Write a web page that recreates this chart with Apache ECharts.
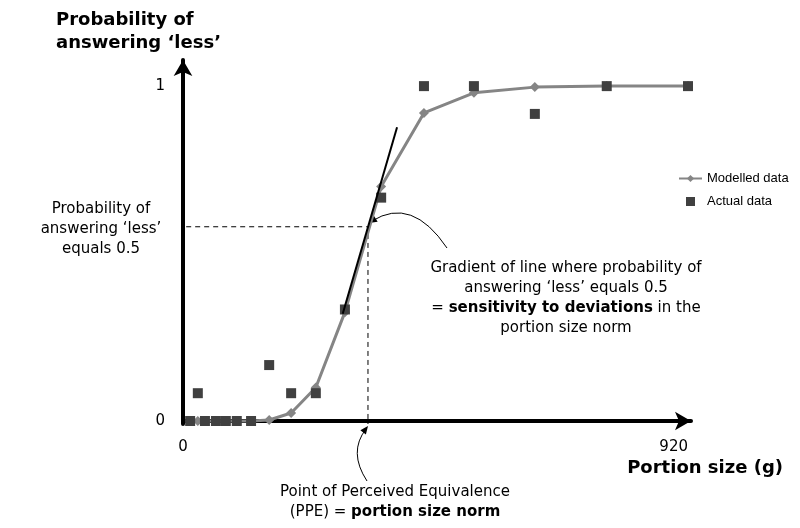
<!DOCTYPE html>
<html>
<head>
<meta charset="utf-8">
<script src="https://cdn.jsdelivr.net/npm/echarts@6/dist/echarts.min.js"></script>
<style>
  html, body { margin: 0; padding: 0; background: #fff; }
  #chart { width: 800px; height: 528px; }
</style>
</head>
<body>
<div id="chart"></div>
<script>
// portion sizes (g) and probabilities
const portionSizes = [13, 27, 40, 60, 78, 98, 124, 157, 197, 242, 295, 361, 439, 530, 641, 772, 920];
const actualData = [0, 0.083, 0, 0, 0, 0, 0, 0.167, 0.083, 0.083, 0.333, 0.667, 1, 1, 0.917, 1, 1];
const modelledData = [0, 0, 0, 0, 0, 0, 0, 0.003, 0.024, 0.10, 0.325, 0.70, 0.92, 0.98, 0.997, 1, 1];
// tangent at the PPE, and the dashed guide lines
const tangentLine = [[291, 0.32], [390, 0.877]];
const guideLine = [[-27, 0.58], [337, 0.58], [337, -0.009]];
const xTicks = [0, 920];
const yTicks = [0, 1];

const chart = echarts.init(document.getElementById('chart'));
const font = 'DejaVu Sans';

// little arrow head at the end of a curve
function arrowHead(x, y, fromX, fromY) {
    const a = Math.atan2(y - fromY, x - fromX);
    const len = 8, half = 3.5;
    const bx = x - len * Math.cos(a), by = y - len * Math.sin(a);
    return {
        type: 'polygon',
        shape: { points: [[x, y], [bx + half * Math.sin(a), by - half * Math.cos(a)], [bx - half * Math.sin(a), by + half * Math.cos(a)]] },
        style: { fill: '#000' }
    };
}

const option = {
    animation: false,
    textStyle: { fontFamily: font },
    grid: { left: 183, right: 109, top: 60, bottom: 104 },
    legend: {
        data: [
            { name: 'Modelled data' },
            { name: 'Actual data', icon: 'path://M0,0h10v10h-10z' }
        ],
        orient: 'vertical',
        left: 673,
        top: 167,
        itemGap: 10,
        itemWidth: 23,
        itemHeight: 9,
        symbolKeepAspect: true,
        textStyle: { fontFamily: 'Liberation Sans', fontSize: 13, color: '#000' }
    },
    xAxis: {
        type: 'value',
        min: 0,
        max: 925.5,
        axisLine: { lineStyle: { color: '#000', width: 4 }, symbol: ['none', 'arrow'], symbolSize: [14, 16] },
        axisTick: { show: false },
        splitLine: { show: false },
        axisLabel: { customValues: xTicks, color: '#000', fontSize: 15, margin: 16, alignMaxLabel: 'right' }
    },
    yAxis: {
        type: 'value',
        min: -0.009,
        max: 1.078,
        axisLine: { lineStyle: { color: '#000', width: 4 }, symbol: ['none', 'arrow'], symbolSize: [14, 16] },
        axisTick: { show: false },
        splitLine: { show: false },
        axisLabel: { customValues: yTicks, color: '#000', fontSize: 15, margin: 18 }
    },
    series: [
        {
            name: 'guide',
            type: 'line',
            data: guideLine,
            symbol: 'none',
            clip: false,
            lineStyle: { color: '#000', width: 1, type: [5, 4] },
            z: 1
        },
        {
            name: 'Modelled data',
            type: 'line',
            data: portionSizes.map((x, i) => [x, modelledData[i]]),
            symbol: 'diamond',
            symbolSize: 10,
            itemStyle: { color: '#858585' },
            lineStyle: { color: '#858585', width: 3 },
            z: 2
        },
        {
            name: 'Actual data',
            type: 'scatter',
            data: portionSizes.map((x, i) => [x, actualData[i]]),
            symbol: 'rect',
            symbolSize: 10,
            itemStyle: { color: '#404040', opacity: 1 },
            z: 3
        },
        {
            name: 'tangent',
            type: 'line',
            data: tangentLine,
            symbol: 'none',
            lineStyle: { color: '#000', width: 2 },
            z: 4
        }
    ],
    graphic: [
        {
            type: 'text', left: 56, top: 9,
            style: { text: 'Probability of\nanswering ‘less’', font: 'bold 18px ' + font, lineHeight: 23, fill: '#000' }
        },
        {
            type: 'text', right: 17, top: 459,
            style: { text: 'Portion size (g)', font: 'bold 18px ' + font, fill: '#000' }
        },
        {
            type: 'text', x: 101, y: 199,
            style: { text: 'Probability of\nanswering ‘less’\nequals 0.5', font: '15px ' + font, lineHeight: 20, align: 'center', fill: '#000' }
        },
        {
            type: 'text', x: 566, y: 258,
            style: {
                text: 'Gradient of line where probability of\nanswering ‘less’ equals 0.5\n= {b|sensitivity to deviations} in the\nportion size norm',
                font: '15px ' + font, lineHeight: 20, align: 'center', fill: '#000',
                rich: { b: { fontWeight: 'bold', fontSize: 15, fontFamily: font, lineHeight: 20 } }
            }
        },
        {
            type: 'text', x: 395, y: 482,
            style: {
                text: 'Point of Perceived Equivalence\n(PPE) = {b|portion size norm}',
                font: '15px ' + font, lineHeight: 20, align: 'center', fill: '#000',
                rich: { b: { fontWeight: 'bold', fontSize: 15, fontFamily: font, lineHeight: 20 } }
            }
        },
        {
            type: 'bezierCurve',
            shape: { x1: 447, y1: 248, cpx1: 412, cpy1: 196, x2: 372, y2: 221 },
            style: { stroke: '#000', lineWidth: 1, fill: null }
        },
        arrowHead(369, 223, 412, 196),
        {
            type: 'bezierCurve',
            shape: { x1: 367, y1: 481, cpx1: 348, cpy1: 452, x2: 366, y2: 429 },
            style: { stroke: '#000', lineWidth: 1, fill: null }
        },
        arrowHead(368, 426, 348, 452)
    ]
};

chart.setOption(option);
</script>
</body>
</html>
